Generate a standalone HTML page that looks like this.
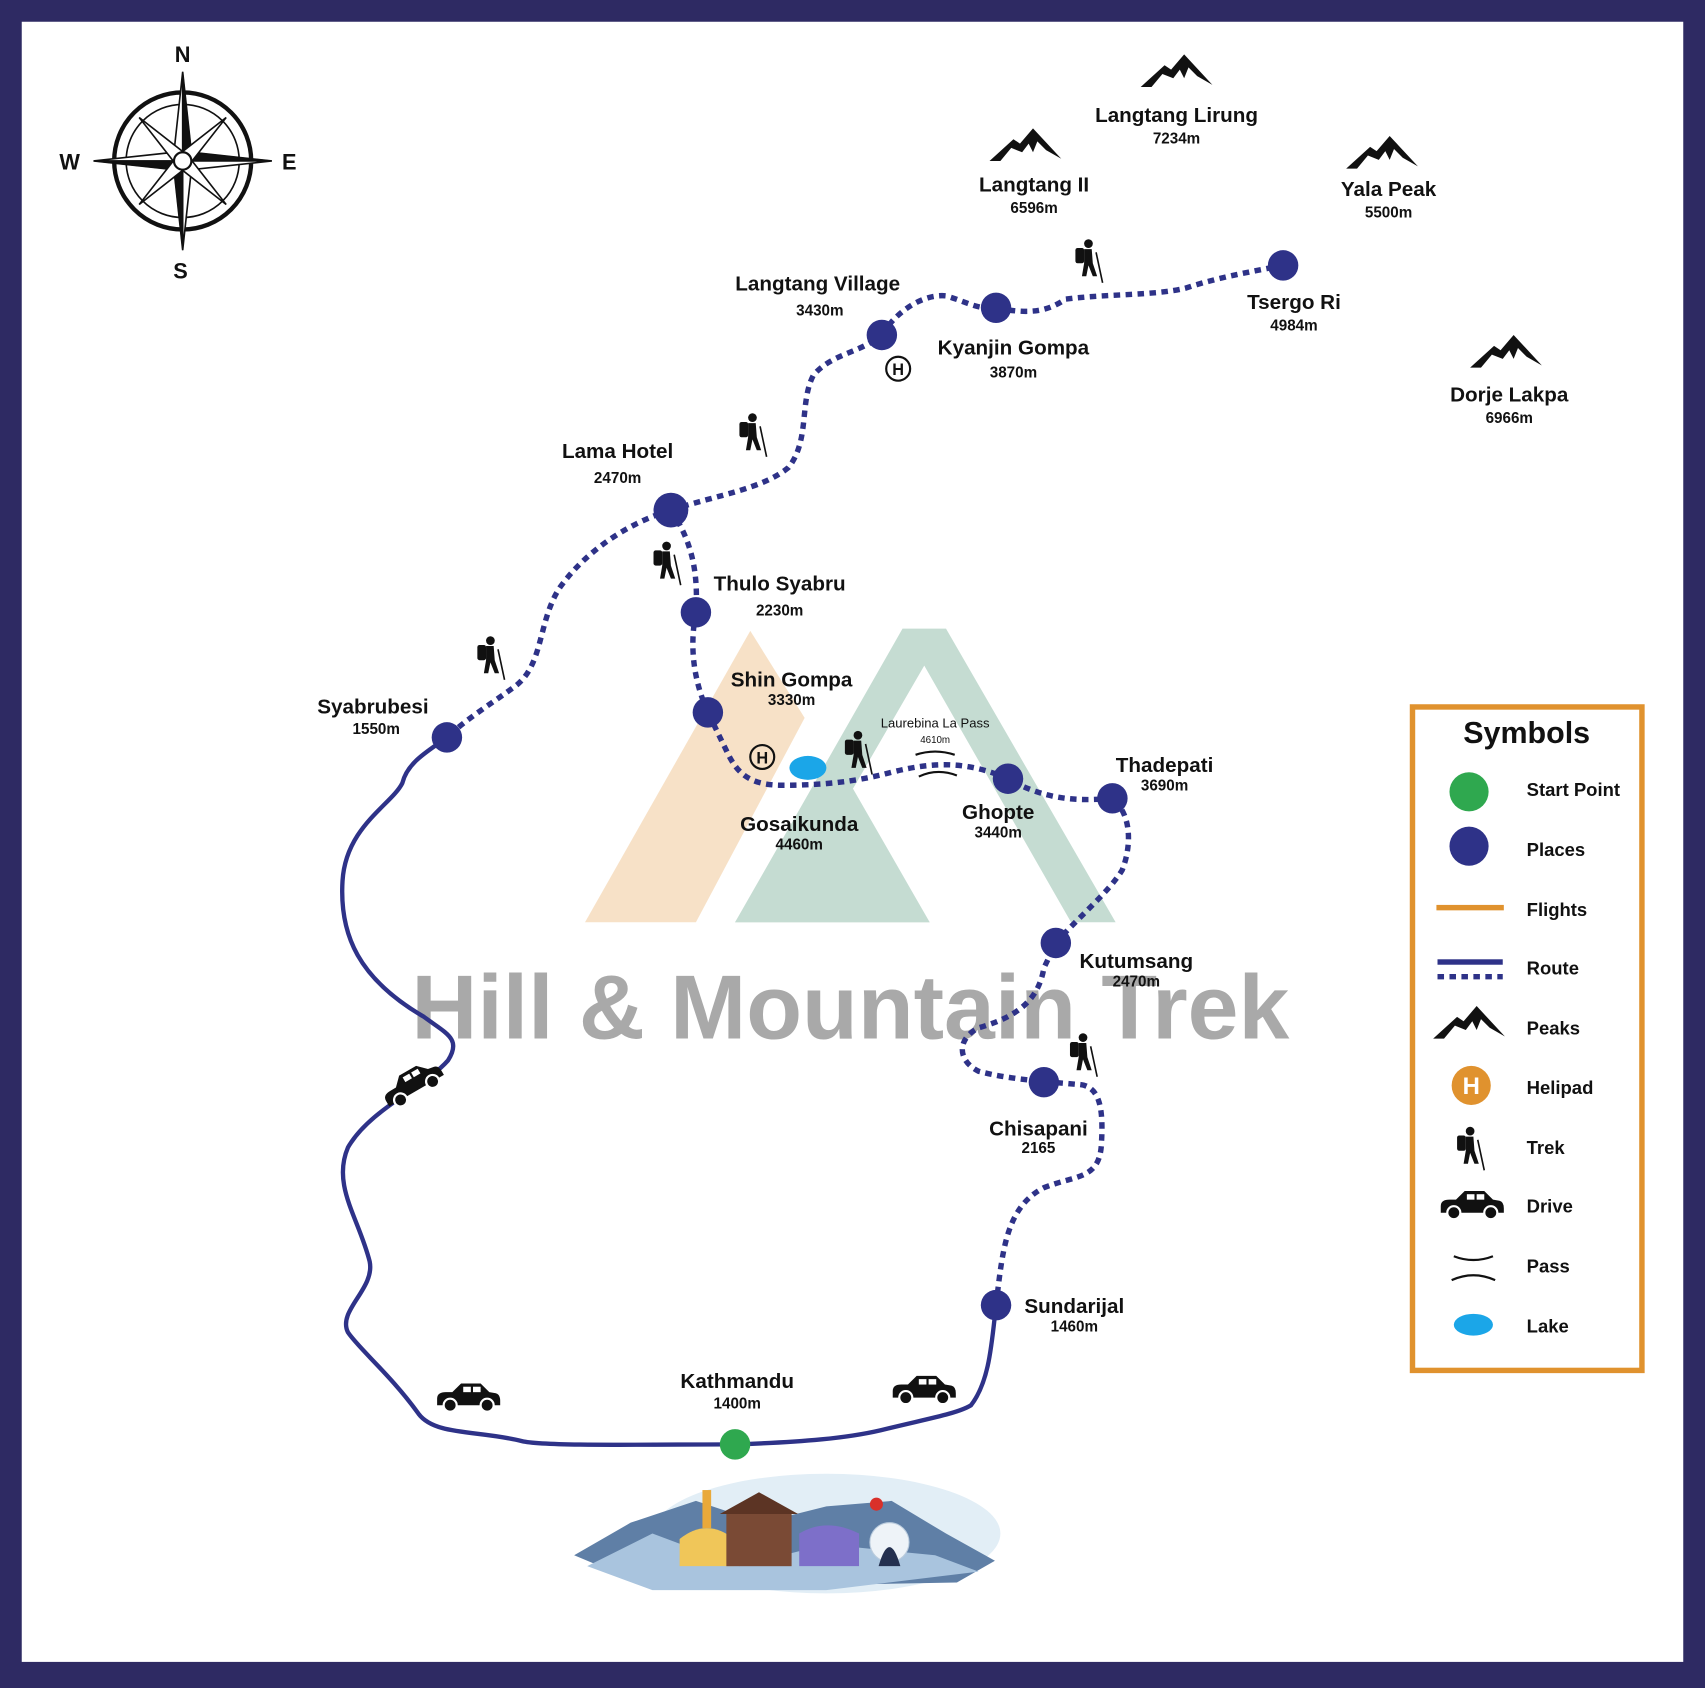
<!DOCTYPE html>
<html><head><meta charset="utf-8"><style>
html,body{margin:0;padding:0;background:#2e2a63;}
svg{display:block}
text{font-family:"Liberation Sans",sans-serif;font-weight:bold;fill:#111;}
</style></head><body>
<svg width="1705" height="1688" viewBox="0 0 1568 1552" preserveAspectRatio="none" xmlns="http://www.w3.org/2000/svg">
<defs>
<g id="peak"><path d="M0,30 L22,10 L28,14 L40,0 L66,28 L52,20 L44,12 L40,22 L36,14 L30,22 L20,18 L10,30 Z" fill="#111"/></g>
<g id="hiker" fill="#111">
<circle cx="14" cy="4" r="4"/>
<rect x="2" y="8" width="8" height="14" rx="2"/>
<path d="M10,9 L17,9 L18,22 L22,34 L18,34 L14,24 L12,34 L8,34 L10,22 Z"/>
<line x1="21" y1="12" x2="27" y2="40" stroke="#111" stroke-width="1.5"/>
</g>
<g id="car" fill="#111">
<path d="M0,14 Q0,8 8,8 L14,8 L22,0 L40,0 L48,8 L54,9 Q58,10 58,16 L58,20 L0,20 Z"/>
<circle cx="12" cy="20" r="6" fill="#111" stroke="#fff" stroke-width="2"/>
<circle cx="46" cy="20" r="6" fill="#111" stroke="#fff" stroke-width="2"/>
<rect x="24" y="3" width="7" height="5" fill="#fff"/><rect x="33" y="3" width="7" height="5" fill="#fff"/>
</g>
</defs>
<rect x="20" y="20" width="1528" height="1508" fill="#fff"/>

<!-- watermark -->
<polygon points="538,848 690,580 740,660 640,848" fill="#f6dcbd" opacity="0.85"/>
<polygon points="676,848 830,578 870,578 1026,848 985,848 850,612 770,750 855,848" fill="#c5dcd2"/>
<polygon points="676,848 770,700 855,848" fill="#c5dcd2"/>
<text x="782" y="955" text-anchor="middle" font-size="84" style="fill:#a9a9a9;font-family:'Liberation Sans',sans-serif">Hill &amp; Mountain Trek</text>

<!-- compass -->
<g transform="translate(168,148)" fill="#111" stroke="#111">
<circle r="63" fill="none" stroke-width="4"/>
<circle r="52" fill="none" stroke-width="1.5"/>
<path d="M0,-82 L8,-8 L0,0Z M0,-82 L-8,-8 L0,0Z" stroke-width="1.5" fill="#fff"/>
<path d="M0,-82 L8,-8 L0,0Z"/>
<path d="M0,82 L8,8 L0,0Z M0,82 L-8,8 L0,0Z" stroke-width="1.5" fill="#fff"/>
<path d="M0,82 L-8,8 L0,0Z"/>
<path d="M-82,0 L-8,-8 L0,0Z M-82,0 L-8,8 L0,0Z" stroke-width="1.5" fill="#fff"/>
<path d="M-82,0 L-8,8 L0,0Z"/>
<path d="M82,0 L8,-8 L0,0Z M82,0 L8,8 L0,0Z" stroke-width="1.5" fill="#fff"/>
<path d="M82,0 L8,-8 L0,0Z"/>
<path d="M-40,-40 L-4,6 L6,-4Z M40,-40 L4,6 L-6,-4Z M-40,40 L-4,-6 L6,4Z M40,40 L4,-6 L-6,4Z" fill="#fff" stroke-width="1.5"/>
<circle r="8" fill="#fff" stroke-width="2"/>
</g>
<text x="168" y="57" text-anchor="middle" font-size="20">N</text>
<text x="166" y="256" text-anchor="middle" font-size="20">S</text>
<text x="64" y="156" text-anchor="middle" font-size="20">W</text>
<text x="266" y="156" text-anchor="middle" font-size="20">E</text>

<!-- peaks -->
<use href="#peak" x="1049" y="50"/>
<use href="#peak" x="910" y="118"/>
<use href="#peak" x="1238" y="125"/>
<use href="#peak" x="1352" y="308"/>
<text x="1082" y="112" text-anchor="middle" font-size="19">Langtang Lirung</text>
<text x="1082" y="132" text-anchor="middle" font-size="14">7234m</text>
<text x="951" y="176" text-anchor="middle" font-size="19">Langtang II</text>
<text x="951" y="196" text-anchor="middle" font-size="14">6596m</text>
<text x="1277" y="180" text-anchor="middle" font-size="19">Yala Peak</text>
<text x="1277" y="200" text-anchor="middle" font-size="14">5500m</text>
<text x="1388" y="369" text-anchor="middle" font-size="19">Dorje Lakpa</text>
<text x="1388" y="389" text-anchor="middle" font-size="14">6966m</text>

<!-- solid route -->
<path d="M676,1328 C600,1328 500,1330 480,1325 C440,1315 400,1320 385,1300 C360,1265 330,1240 320,1225 C310,1205 345,1185 340,1160 C330,1120 305,1090 320,1055 C340,1020 390,1000 412,975 C425,955 410,950 390,935 C330,900 312,860 315,810 C318,760 360,740 370,720 C375,700 395,690 411,678" fill="none" stroke="#2e3288" stroke-width="4"/>
<path d="M676,1328 C740,1326 780,1322 810,1315 C850,1305 880,1300 893,1292 C910,1270 912,1235 916,1200" fill="none" stroke="#2e3288" stroke-width="4"/>

<!-- dotted routes -->
<g fill="none" stroke="#2e3288" stroke-width="5" stroke-dasharray="6,5">
<path d="M916,1200 C922,1150 925,1110 960,1092 C990,1080 1012,1085 1013,1050 C1015,1015 1010,997 990,997 C970,995 930,993 900,985 C880,975 880,955 900,945 C935,935 955,920 960,890 L971,867 C990,845 1020,820 1032,800 C1040,780 1042,750 1023,734"/>
<path d="M1023,734 C990,737 960,735 927,716"/>
<path d="M927,716 C890,700 860,700 820,710 C790,718 760,722 720,722 C690,722 678,712 668,690 L651,655"/>
<path d="M651,655 C640,630 633,600 640,563 C642,530 638,500 617,469"/>
<path d="M617,469 C580,480 540,505 515,540 C495,570 500,610 475,630 C455,645 430,660 411,678"/>
<path d="M617,469 C660,455 700,450 725,430 C745,405 735,370 748,345 C765,325 790,325 811,308"/>
<path d="M811,308 C825,285 850,270 870,272 C890,278 900,285 916,283 C950,290 965,285 980,275 C1020,270 1060,272 1090,265 C1120,255 1150,250 1180,244"/>
</g>

<!-- lake & pass -->
<ellipse cx="743" cy="706" rx="17" ry="11" fill="#1ba6e8"/>
<path d="M842,694 Q860,688 878,694" stroke="#111" stroke-width="2" fill="none"/>
<path d="M845,714 Q862,706 880,713" stroke="#111" stroke-width="2" fill="none"/>
<text x="860" y="669" text-anchor="middle" font-size="12" style="font-weight:normal">Laurebina La Pass</text>
<text x="860" y="683" text-anchor="middle" font-size="9" style="font-weight:normal">4610m</text>

<!-- helipads -->
<g fill="none" stroke="#111" stroke-width="2"><circle cx="826" cy="339" r="11"/><circle cx="701" cy="696" r="11"/></g>
<text x="826" y="345" text-anchor="middle" font-size="15">H</text>
<text x="701" y="702" text-anchor="middle" font-size="15">H</text>

<!-- hikers -->
<use href="#hiker" x="678" y="380"/>
<use href="#hiker" x="599" y="498"/>
<use href="#hiker" x="437" y="585"/>
<use href="#hiker" x="775" y="672"/>
<use href="#hiker" x="987" y="220"/>
<use href="#hiker" x="982" y="950"/>
<!-- cars -->
<g transform="translate(348,1000) rotate(-30)"><use href="#car"/></g>
<use href="#car" x="402" y="1272"/>
<use href="#car" x="821" y="1265"/>

<!-- nodes -->
<g fill="#2e3288">
<circle cx="916" cy="1200" r="14"/><circle cx="960" cy="995" r="14"/><circle cx="971" cy="867" r="14"/>
<circle cx="1023" cy="734" r="14"/><circle cx="927" cy="716" r="14"/><circle cx="651" cy="655" r="14"/>
<circle cx="640" cy="563" r="14"/><circle cx="617" cy="469" r="16"/><circle cx="811" cy="308" r="14"/>
<circle cx="916" cy="283" r="14"/><circle cx="1180" cy="244" r="14"/><circle cx="411" cy="678" r="14"/>
</g>
<circle cx="676" cy="1328" r="14" fill="#2fa84f"/>

<!-- labels -->
<g font-size="19">
<text x="752" y="267" text-anchor="middle">Langtang Village</text>
<text x="932" y="326" text-anchor="middle">Kyanjin Gompa</text>
<text x="1190" y="284" text-anchor="middle">Tsergo Ri</text>
<text x="568" y="421" text-anchor="middle">Lama Hotel</text>
<text x="717" y="543" text-anchor="middle">Thulo Syabru</text>
<text x="728" y="631" text-anchor="middle">Shin Gompa</text>
<text x="343" y="656" text-anchor="middle">Syabrubesi</text>
<text x="735" y="764" text-anchor="middle">Gosaikunda</text>
<text x="918" y="753" text-anchor="middle">Ghopte</text>
<text x="1071" y="710" text-anchor="middle">Thadepati</text>
<text x="1045" y="890" text-anchor="middle">Kutumsang</text>
<text x="955" y="1044" text-anchor="middle">Chisapani</text>
<text x="988" y="1207" text-anchor="middle">Sundarijal</text>
<text x="678" y="1276" text-anchor="middle">Kathmandu</text>
</g>
<g font-size="14">
<text x="754" y="290" text-anchor="middle">3430m</text>
<text x="932" y="347" text-anchor="middle">3870m</text>
<text x="1190" y="304" text-anchor="middle">4984m</text>
<text x="568" y="444" text-anchor="middle">2470m</text>
<text x="717" y="566" text-anchor="middle">2230m</text>
<text x="728" y="648" text-anchor="middle">3330m</text>
<text x="346" y="675" text-anchor="middle">1550m</text>
<text x="735" y="781" text-anchor="middle">4460m</text>
<text x="918" y="770" text-anchor="middle">3440m</text>
<text x="1071" y="727" text-anchor="middle">3690m</text>
<text x="1045" y="907" text-anchor="middle">2470m</text>
<text x="955" y="1060" text-anchor="middle">2165</text>
<text x="988" y="1224" text-anchor="middle">1460m</text>
<text x="678" y="1295" text-anchor="middle">1400m</text>
</g>

<!-- bottom illustration -->
<ellipse cx="760" cy="1410" rx="160" ry="55" fill="#e2eef6"/>
<path d="M528,1430 L580,1400 L640,1380 L700,1400 L760,1385 L820,1380 L870,1410 L915,1435 L880,1455 L600,1460 Z" fill="#5f7fa6"/>
<path d="M540,1440 L600,1410 L680,1440 L760,1420 L860,1430 L900,1445 L760,1462 L600,1462 Z" fill="#a9c4de"/>
<path d="M625,1415 Q650,1395 675,1415 L675,1440 L625,1440 Z" fill="#f0c659"/>
<rect x="646" y="1370" width="8" height="35" fill="#e9a93a"/>
<rect x="668" y="1390" width="60" height="50" fill="#7a4a35"/>
<path d="M662,1392 L698,1372 L734,1392 Z" fill="#5c3424"/>
<path d="M735,1410 Q760,1395 790,1410 L790,1440 L735,1440 Z" fill="#7d6fc9"/>
<circle cx="818" cy="1418" r="18" fill="#eef3f8" stroke="#bcd" />
<path d="M808,1440 Q818,1405 828,1440 Z" fill="#24304f"/>
<circle cx="806" cy="1383" r="6" fill="#d9302a"/>

<!-- legend -->
<rect x="1299" y="650" width="211" height="610" fill="#fff" stroke="#e0922e" stroke-width="5"/>
<text x="1404" y="683" text-anchor="middle" font-size="28">Symbols</text>
<circle cx="1351" cy="728" r="18" fill="#2fa84f"/>
<circle cx="1351" cy="778" r="18" fill="#2e3288"/>
<rect x="1321" y="832" width="62" height="5" fill="#e0922e"/>
<rect x="1322" y="882" width="60" height="5" fill="#2e3288"/>
<line x1="1322" y1="898" x2="1382" y2="898" stroke="#2e3288" stroke-width="5" stroke-dasharray="6,5"/>
<use href="#peak" x="1318" y="925"/>
<circle cx="1353" cy="998" r="18" fill="#e0922e"/>
<text x="1353" y="1006" text-anchor="middle" font-size="22" style="fill:#fff">H</text>
<use href="#hiker" x="1338" y="1036"/>
<use href="#car" x="1325" y="1095"/>
<path d="M1337,1155 Q1355,1162 1373,1155" stroke="#111" stroke-width="2" fill="none"/>
<path d="M1335,1177 Q1355,1168 1375,1177" stroke="#111" stroke-width="2" fill="none"/>
<ellipse cx="1355" cy="1218" rx="18" ry="10" fill="#1ba6e8"/>
<g font-size="17">
<text x="1404" y="732">Start Point</text>
<text x="1404" y="787">Places</text>
<text x="1404" y="842">Flights</text>
<text x="1404" y="896">Route</text>
<text x="1404" y="951">Peaks</text>
<text x="1404" y="1006">Helipad</text>
<text x="1404" y="1061">Trek</text>
<text x="1404" y="1115">Drive</text>
<text x="1404" y="1170">Pass</text>
<text x="1404" y="1225">Lake</text>
</g>
</svg>
</body></html>
